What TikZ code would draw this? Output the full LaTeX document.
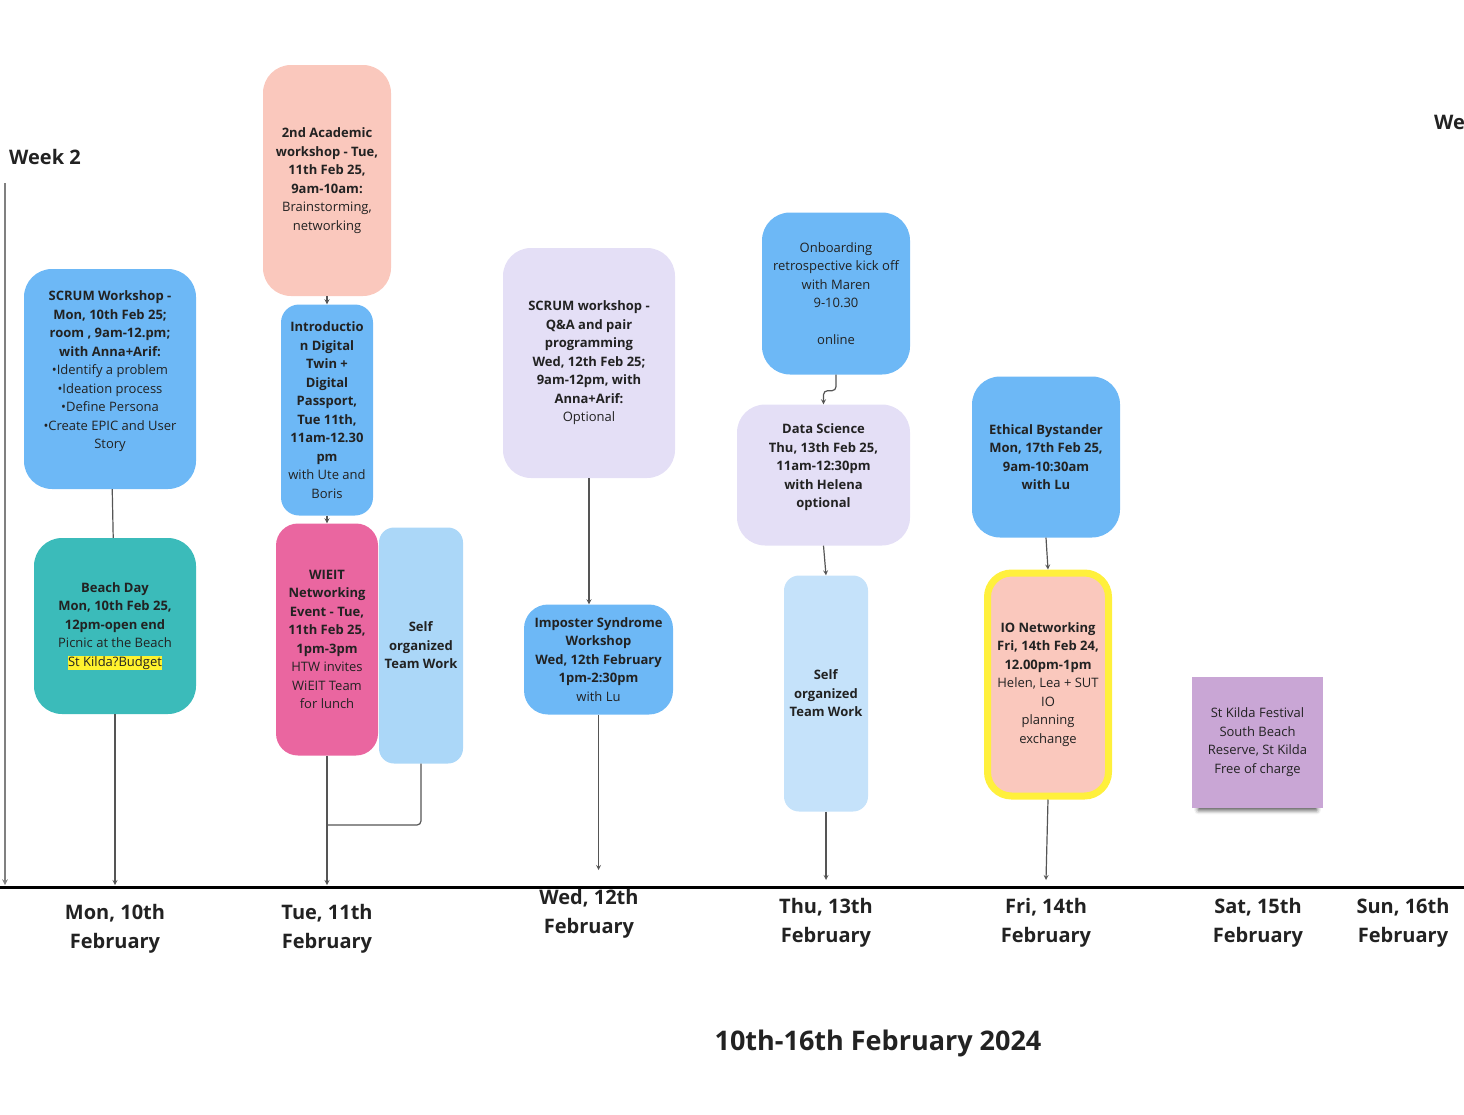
\documentclass[tikz,border=0pt]{standalone}
\usepackage{fontspec}
\setmainfont{Open Sans}
\usepackage{tikz}
\usetikzlibrary{arrows,shapes,positioning,shadows,shadows.blur}
\usepackage{xcolor}
\definecolor{evblue}{RGB}{109,184,246}
\definecolor{evteal}{RGB}{59,187,186}
\definecolor{evsalmon}{RGB}{250,200,189}
\definecolor{evpink}{RGB}{234,102,160}
\definecolor{evsky}{RGB}{171,215,248}
\definecolor{evpale}{RGB}{197,226,250}
\definecolor{evlav}{RGB}{228,223,246}
\definecolor{evyellow}{RGB}{255,240,60}
\definecolor{evhl}{RGB}{255,242,46}
\definecolor{evpurple}{RGB}{201,166,213}
\definecolor{linegray}{RGB}{85,85,85}
\definecolor{textdark}{RGB}{34,34,34}
\newcommand{\boxfont}{\fontsize{13}{18.5}\selectfont}
\newcommand{\dayfont}{\fontsize{20}{29}\selectfont\bfseries}
\setlength{\fboxsep}{0.5pt}
\tikzstyle{event} = [rectangle, rounded corners=28pt, align=center, inner sep=2pt, text=textdark, font=\boxfont]
\tikzstyle{arrow} = [line width=1.2pt,->,>=stealth,color=linegray]
\tikzstyle{link} = [line width=1.2pt,color=linegray]
\tikzstyle{day} = [align=center, font=\dayfont, text=textdark]

\begin{document}
\begin{tikzpicture}[x=1pt, y=-1pt]
\useasboundingbox (0,0) rectangle (1464,1114);

% Week headings
\node[anchor=west, font=\fontsize{20}{24}\selectfont\bfseries, text=textdark, inner sep=0pt] (week2) at (9,157) {Week 2};
\node[anchor=west, font=\fontsize{20}{24}\selectfont\bfseries, text=textdark, inner sep=0pt] (week3) at (1434,122) {We};

% Monday
\node[event, fill=evblue, minimum width=172pt, minimum height=220pt] (scrum) at (110,379) {\textbf{SCRUM Workshop -}\\\textbf{Mon, 10th Feb 25;}\\\textbf{room , 9am-12.pm;}\\\textbf{with Anna+Arif:}\\•Identify a problem\\•Ideation process\\•Define Persona\\•Create EPIC and User\\Story\\~};
\node[event, fill=evteal, minimum width=162pt, minimum height=176pt] (beach) at (115,626) {\textbf{Beach Day}\\\textbf{Mon, 10th Feb 25,}\\\textbf{12pm-open end}\\Picnic at the Beach\\\colorbox{evhl}{St Kilda?Budget}};

% Tuesday
\node[event, fill=evsalmon, minimum width=128pt, minimum height=231pt] (academic) at (327,180.5) {\textbf{2nd Academic}\\\textbf{workshop - Tue,}\\\textbf{11th Feb 25,}\\\textbf{9am-10am:}\\Brainstorming,\\networking};
\node[event, fill=evblue, rounded corners=18pt, minimum width=92pt, minimum height=211pt] (twin) at (327,410) {\textbf{Introductio}\\\textbf{n Digital}\\\textbf{Twin +}\\\textbf{Digital}\\\textbf{Passport,}\\\textbf{Tue 11th,}\\\textbf{11am-12.30}\\\textbf{pm}\\with Ute and\\Boris};
\node[event, fill=evpink, rounded corners=22pt, minimum width=102pt, minimum height=232pt] (wieit) at (327,639.5) {\textbf{WIEIT}\\\textbf{Networking}\\\textbf{Event - Tue,}\\\textbf{11th Feb 25,}\\\textbf{1pm-3pm}\\HTW invites\\WiEIT Team\\for lunch};
\node[event, fill=evsky, rounded corners=15pt, minimum width=84pt, minimum height=236pt] (selftue) at (421,645.5) {\textbf{Self}\\\textbf{organized}\\\textbf{Team Work}};

% Wednesday
\node[event, fill=evlav, minimum width=172pt, minimum height=230pt] (scrumqa) at (589,363) {\textbf{SCRUM workshop -}\\\textbf{Q\&A and pair}\\\textbf{programming}\\\textbf{Wed, 12th Feb 25;}\\\textbf{9am-12pm, with}\\\textbf{Anna+Arif:}\\Optional};
\node[event, fill=evblue, rounded corners=24pt, minimum width=149pt, minimum height=110pt] (imposter) at (598.5,659.5) {\textbf{Imposter Syndrome}\\\textbf{Workshop}\\\textbf{Wed, 12th February}\\\textbf{1pm-2:30pm}\\with Lu};

% Thursday
\node[event, fill=evblue, minimum width=148pt, minimum height=162pt] (onboard) at (836,293.5) {Onboarding\\retrospective kick off\\with Maren\\9-10.30\\~\\online};
\node[event, fill=evlav, minimum width=173pt, minimum height=141pt] (datasci) at (823.5,475) {\textbf{Data Science}\\\textbf{Thu, 13th Feb 25,}\\\textbf{11am-12:30pm}\\\textbf{with Helena}\\\textbf{optional}\\~};
\node[event, fill=evpale, rounded corners=15pt, minimum width=84pt, minimum height=236pt] (selfthu) at (826,693.5) {\textbf{Self}\\\textbf{organized}\\\textbf{Team Work}};

% Friday
\node[event, fill=evblue, minimum width=148pt, minimum height=161pt] (ethical) at (1046,457) {\textbf{Ethical Bystander}\\\textbf{Mon, 17th Feb 25,}\\\textbf{9am-10:30am}\\\textbf{with Lu}};
\node[event, fill=evsalmon, draw=evyellow, line width=7pt, rounded corners=24pt, minimum width=121pt, minimum height=223pt] (ionet) at (1048,684.5) {\textbf{IO Networking}\\\textbf{Fri, 14th Feb 24,}\\\textbf{12.00pm-1pm}\\Helen, Lea + SUT\\IO\\planning\\exchange};

% Saturday
\node[event, fill=evpurple, rounded corners=0pt, minimum width=131pt, minimum height=131pt, blur shadow={shadow xshift=0pt, shadow yshift=-10pt, shadow scale=0.9, shadow opacity=75, shadow blur radius=5pt}] (stkilda) at (1257.5,742) {St Kilda Festival\\South Beach\\Reserve, St Kilda\\Free of charge};

% Time axis
\coordinate (axisL) at (0,887);
\coordinate (axisR) at (1464,887);
\coordinate (sideTop) at (5,183);
\coordinate (sideEnd) at (5,885);
\coordinate (monEnd) at (115,885);
\coordinate (tueEnd) at (327,885);
\coordinate (tueJoin) at (327,825);
\coordinate (wedEnd) at (598.5,870);
\coordinate (thuEnd) at (826,880);
\coordinate (friEnd) at (1046,880);
\draw[line width=3pt, black] (axisL) -- (axisR);
\draw[line width=1.5pt, ->, >=stealth, color=gray] (sideTop) -- (sideEnd);

% Days
\node[day] (mon) at (115,928.5) {Mon, 10th\\February};
\node[day] (tue) at (327,928.5) {Tue, 11th\\February};
\node[day] (wed) at (589,914) {Wed, 12th\\February};
\node[day] (thu) at (826,922.5) {Thu, 13th\\February};
\node[day] (fri) at (1046,922.5) {Fri, 14th\\February};
\node[day] (sat) at (1258,922.5) {Sat, 15th\\February};
\node[day] (sun) at (1403,922.5) {Sun, 16th\\February};

% Title
\node[font=\fontsize{27}{32}\selectfont\bfseries, text=textdark] (title) at (878,1043) {10th-16th February 2024};

% Arrows
\draw[link] (scrum) -- (beach);
\draw[arrow] (beach.south) -- (monEnd);
\draw[arrow] (academic) -- (twin);
\draw[arrow] (twin) -- (wieit);
\draw[arrow] (wieit.south) -- (tueEnd);
\draw[link, rounded corners=4pt] (selftue.south) |- (tueJoin);
\draw[arrow] (scrumqa.south) -- (scrumqa.south |- imposter.north);
\draw[arrow] (imposter.south) -- (wedEnd);
\draw[arrow, rounded corners=4pt] (onboard.south) -- ++(0,16) -| (datasci.north);
\draw[arrow] (datasci.south) -- (selfthu.north);
\draw[arrow] (selfthu.south) -- (thuEnd);
\draw[arrow] (ethical.south) -- (ionet.north);
\draw[arrow] (ionet.south) -- (friEnd);
\end{tikzpicture}
\end{document}
